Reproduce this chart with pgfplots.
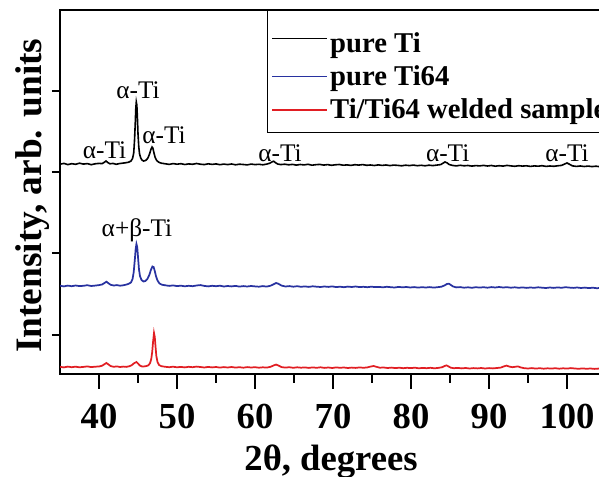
\documentclass[border=0pt]{standalone}
\usepackage{fontspec}
\setmainfont{Liberation Serif}
\usepackage{pgfplots}
\pgfplotsset{compat=1.18}
\definecolor{xblue}{RGB}{40,50,160}
\definecolor{xred}{RGB}{225,30,35}
\begin{document}
\begin{tikzpicture}
\begin{axis}[
 scale only axis, width=406.6pt, height=273pt,
 xmin=35, xmax=104.5, ymin=0, ymax=364,
 xtick={40,50,...,100}, minor x tick num=1,
 ytick={39,121,202,283}, yticklabels={},
 xtick pos=bottom, ytick pos=left, tick align=outside,
 major tick length=11pt, minor tick length=6.5pt,
 ytick style={/pgfplots/major tick length=6pt},
 axis line style={line width=1.5pt},
 every tick/.style={black, line width=1.5pt},
 xticklabel style={font=\fontsize{27.5}{30}\selectfont\bfseries, yshift=-8pt},
 /pgf/number format/assume math mode=true,
 xlabel={2θ, degrees},
 xlabel style={font=\fontsize{27.5}{30}\selectfont\bfseries, at={(axis description cs:0.5,0)}, anchor=base, yshift=-72pt},
 ylabel={Intensity, arb. units},
 ylabel style={font=\fontsize{28}{30}\selectfont\bfseries, at={(axis description cs:-0.035,0.49)}, anchor=base},
 legend style={at={(axis description cs:0.382,1)}, anchor=north west, draw=black, line width=0.6pt,
   font=\fontsize{21.5}{24}\selectfont\bfseries, inner xsep=3pt, inner ysep=7pt, row sep=4.5pt},
 legend cell align=left,
 legend image code/.code={\draw[#1, line width=1pt] (0pt,0pt) -- (41pt,0pt);},
]
\coordinate (O) at (rel axis cs:0,0);
\addplot[black, line width=1.2pt] coordinates {
(35,209.8) (35.5,210.6) (36,209.4) (36.5,210.3) (37,209.7) (37.5,210.8) (38,209.9) (38.5,210.4) (39,209.3) (39.5,210.2) (40,210.6) (40.4,210.4) (40.7,211.8) (40.9,213) (41.1,211.6) (41.4,210.2) (41.8,210.6) (42.2,209.7) (42.6,210.4) (43,210.8) (43.4,211.2) (43.8,211.8) (44.1,213) (44.3,215.5) (44.45,221) (44.55,233) (44.65,251) (44.72,266) (44.78,272) (44.85,269) (44.92,257) (45.0,240) (45.1,227) (45.2,220) (45.35,216) (45.5,214) (45.7,213) (45.9,213.3) (46.1,214.2) (46.3,216.5) (46.5,220.5) (46.65,224.5) (46.8,227) (46.9,226) (47.05,221) (47.2,216.5) (47.4,213.5) (47.65,211.8) (48,210.8) (48.5,210.2) (49,209.6) (49.5,210.4) (50,209.8) (50.5,210.3) (51,209.5) (51.5,210.1) (52,209.7) (52.5,210.5) (53,209.8) (53.5,209.4) (54,210.2) (54.5,209.6) (55,210.1) (55.5,209.3) (56,209.9) (56.5,209.4) (57,210) (57.5,209.2) (58,209.8) (58.5,209.5) (59,209.1) (59.5,209.9) (60,209.4) (60.5,209.7) (61,209.2) (61.5,209.9) (61.9,210.8) (62.2,212.2) (62.4,212.8) (62.6,211.4) (62.9,210) (63.3,209.4) (63.8,209.8) (64.3,209.2) (64.8,209.6) (65.3,208.9) (65.8,209.5) (66.3,209.1) (66.8,209.7) (67.3,208.8) (67.8,209.3) (68.3,209.6) (68.8,208.9) (69.3,209.4) (69.8,208.7) (70.3,209.2) (70.8,209.5) (71.3,208.8) (71.8,209.1) (72.3,208.6) (72.8,209.3) (73.3,208.9) (73.8,209.4) (74.3,208.7) (74.8,209) (75.3,208.5) (75.8,209.1) (76.3,208.6) (76.8,209) (77.3,208.4) (77.8,208.9) (78.3,208.6) (78.8,208.2) (79.3,208.8) (79.8,208.4) (80.3,208.9) (80.8,208.3) (81.3,208.7) (81.8,208.2) (82.3,208.8) (82.8,208.4) (83.3,208.9) (83.8,209.4) (84.1,210.8) (84.35,212) (84.6,211.2) (84.9,209.5) (85.3,208.6) (85.8,208.1) (86.3,208.7) (86.8,208.2) (87.3,208.5) (87.8,207.9) (88.3,208.4) (88.8,208.1) (89.3,208.6) (89.8,208) (90.3,208.5) (90.8,207.8) (91.3,208.3) (91.8,207.9) (92.3,208.6) (92.8,208.1) (93.3,207.7) (93.8,208.3) (94.3,207.9) (94.8,208.2) (95.3,207.6) (95.8,208.1) (96.3,207.8) (96.8,208.3) (97.3,207.6) (97.8,208) (98.3,207.7) (98.8,208.2) (99.3,208.6) (99.7,210) (100,211) (100.3,209.8) (100.7,208.1) (101.2,207.6) (101.7,208) (102.2,207.5) (102.7,207.9) (103.2,207.4) (103.7,207.8) (104.2,207.3) (104.5,207.6)
};
\addlegendentry{\rule{0pt}{22.5pt}pure Ti}
\addplot[xblue, line width=1.3pt] coordinates {
(35,88.3) (35.5,87.6) (36,88.4) (36.5,87.8) (37,88.5) (37.5,87.9) (38,88.2) (38.5,88.8) (39,88) (39.5,88.4) (40,88.9) (40.4,89.5) (40.7,91) (40.95,92.3) (41.2,90.8) (41.5,89.2) (41.9,88.5) (42.3,88.9) (42.7,88.3) (43.1,88.7) (43.5,89.4) (43.8,90.2) (44.1,91.5) (44.3,95) (44.45,102) (44.6,115) (44.7,125) (44.8,130) (44.9,127) (45.0,117) (45.12,105) (45.25,98) (45.45,94) (45.7,92.5) (45.95,93) (46.2,95) (46.45,99) (46.65,104) (46.85,107.5) (47.0,107) (47.15,103) (47.3,98) (47.5,93.5) (47.75,90.5) (48.1,89.2) (48.5,88.7) (49,88.1) (49.5,88.6) (50,87.9) (50.5,88.3) (51,87.7) (51.5,88.2) (52,87.8) (52.5,88.5) (53,88.9) (53.5,88.1) (54,87.6) (54.5,88.2) (55,87.8) (55.5,88.3) (56,87.5) (56.5,88) (57,87.6) (57.5,88.1) (58,87.4) (58.5,87.9) (59,87.5) (59.5,88) (60,87.6) (60.5,87.3) (61,87.9) (61.5,87.4) (62,88.3) (62.4,89.8) (62.7,91) (63,90.2) (63.4,88.4) (63.9,87.5) (64.4,87.9) (64.9,87.3) (65.4,87.8) (65.9,87.2) (66.4,87.6) (66.9,87.1) (67.4,87.7) (67.9,87.3) (68.4,87) (68.9,87.5) (69.4,87.1) (69.9,87.6) (70.4,86.9) (70.9,87.3) (71.4,86.8) (71.9,87.4) (72.4,87) (72.9,87.5) (73.4,86.9) (73.9,87.2) (74.4,86.8) (74.9,87.3) (75.4,86.9) (75.9,87.1) (76.4,86.7) (76.9,87.2) (77.4,86.8) (77.9,86.5) (78.4,87.1) (78.9,86.7) (79.4,87) (79.9,86.5) (80.4,86.9) (80.9,86.4) (81.4,86.8) (81.9,86.5) (82.4,86.9) (82.9,86.4) (83.4,86.8) (83.9,87.3) (84.3,88.6) (84.6,90) (84.85,90.3) (85.1,89) (85.4,87.5) (85.8,86.6) (86.3,86.9) (86.8,86.3) (87.3,86.7) (87.8,86.2) (88.3,86.8) (88.8,86.4) (89.3,86.8) (89.8,86.3) (90.3,86.9) (90.8,86.5) (91.3,87) (91.8,86.5) (92.3,86.8) (92.8,86.3) (93.3,86.7) (93.8,86.2) (94.3,86.6) (94.8,86.1) (95.3,86.5) (95.8,86.2) (96.3,86.7) (96.8,86.3) (97.3,86) (97.8,86.5) (98.3,86.1) (98.8,86.6) (99.3,86.2) (99.8,86.8) (100.3,86.4) (100.8,86.1) (101.3,86.5) (101.8,86) (102.3,86.4) (102.8,85.9) (103.3,86.3) (103.8,85.8) (104.5,86.1)
};
\addlegendentry{pure Ti64}
\addplot[xred, line width=1.3pt] coordinates {
(35,7.2) (35.5,6.6) (36,7.4) (36.5,6.8) (37,7.3) (37.5,6.7) (38,7.1) (38.5,7.6) (39,6.9) (39.5,7.3) (40,7.5) (40.4,8.3) (40.7,9.8) (40.95,11) (41.2,9.6) (41.5,7.9) (41.9,7.2) (42.3,7.6) (42.7,7) (43.1,7.4) (43.5,7.1) (43.9,7.8) (44.2,8.8) (44.5,10.8) (44.8,12) (45.0,10.5) (45.25,8.4) (45.5,7.6) (45.8,7.6) (46.1,8) (46.35,8.8) (46.55,11) (46.7,15) (46.82,22) (46.93,32) (47.05,41) (47.15,37) (47.25,27) (47.35,18) (47.5,12) (47.7,9) (48.0,7.8) (48.5,7.2) (49,6.8) (49.5,7.3) (50,6.7) (50.5,7.1) (51,6.6) (51.5,7.2) (52,6.8) (52.5,7.4) (53,7) (53.5,6.5) (54,7.1) (54.5,6.6) (55,7) (55.5,6.4) (56,6.9) (56.5,6.5) (57,7) (57.5,6.4) (58,6.8) (58.5,6.3) (59,6.9) (59.5,6.5) (60,6.8) (60.5,6.3) (61,6.7) (61.5,6.4) (62,7.2) (62.4,8.6) (62.7,9.4) (63,8.5) (63.4,6.9) (63.9,6.4) (64.4,6.8) (64.9,6.2) (65.4,6.7) (65.9,6.3) (66.4,6.6) (66.9,6.1) (67.4,6.6) (67.9,6.2) (68.4,6.7) (68.9,6.1) (69.4,6.5) (69.9,6) (70.4,6.6) (70.9,6.2) (71.4,6.5) (71.9,6) (72.4,6.4) (72.9,6.1) (73.4,6.6) (73.9,6.2) (74.4,6.6) (74.8,7.4) (75.2,8) (75.6,7.1) (76,6.3) (76.5,6.5) (77,6) (77.5,6.4) (78,5.9) (78.5,6.3) (79,5.8) (79.5,6.2) (80,5.9) (80.5,6.3) (81,5.7) (81.5,6.1) (82,5.8) (82.5,6.2) (83,5.7) (83.5,6.1) (84,6.8) (84.3,8) (84.55,8.6) (84.8,7.6) (85.1,6.3) (85.5,5.8) (86,6.1) (86.5,5.6) (87,6) (87.5,5.5) (88,5.9) (88.5,5.6) (89,6) (89.5,5.5) (90,5.9) (90.5,5.6) (91,6) (91.5,6.4) (91.9,7.6) (92.25,8.4) (92.6,7.4) (93,6.8) (93.35,7.2) (93.7,7.6) (94.05,6.6) (94.5,5.8) (95,5.5) (95.5,5.9) (96,5.4) (96.5,5.8) (97,5.3) (97.5,5.7) (98,5.4) (98.5,5.8) (99,5.3) (99.5,5.7) (100,5.4) (100.5,5.9) (101,5.5) (101.5,5.2) (102,5.6) (102.5,5.2) (103,5.5) (103.5,5.1) (104,5.4) (104.5,5.1)
};
\addlegendentry{Ti/Ti64 welded sample}
\node[font=\fontsize{19}{21}\selectfont] at (axis cs:45.0,284) {α-Ti};
\node[font=\fontsize{19}{21}\selectfont] at (axis cs:40.7,224) {α-Ti};
\node[font=\fontsize{19}{21}\selectfont] at (axis cs:48.33,239) {α-Ti};
\node[font=\fontsize{19}{21}\selectfont] at (axis cs:63.2,221) {α-Ti};
\node[font=\fontsize{19}{21}\selectfont] at (axis cs:84.7,221) {α-Ti};
\node[font=\fontsize{19}{21}\selectfont] at (axis cs:100.0,221) {α-Ti};
\node[font=\fontsize{19}{21}\selectfont] at (axis cs:44.87,144) {α+β-Ti};
\end{axis}
\pgfresetboundingbox
\path[use as bounding box] ([shift={(-45pt,-77.25pt)}]O) rectangle ([shift={(404.25pt,280.5pt)}]O);
\end{tikzpicture}
\end{document}
